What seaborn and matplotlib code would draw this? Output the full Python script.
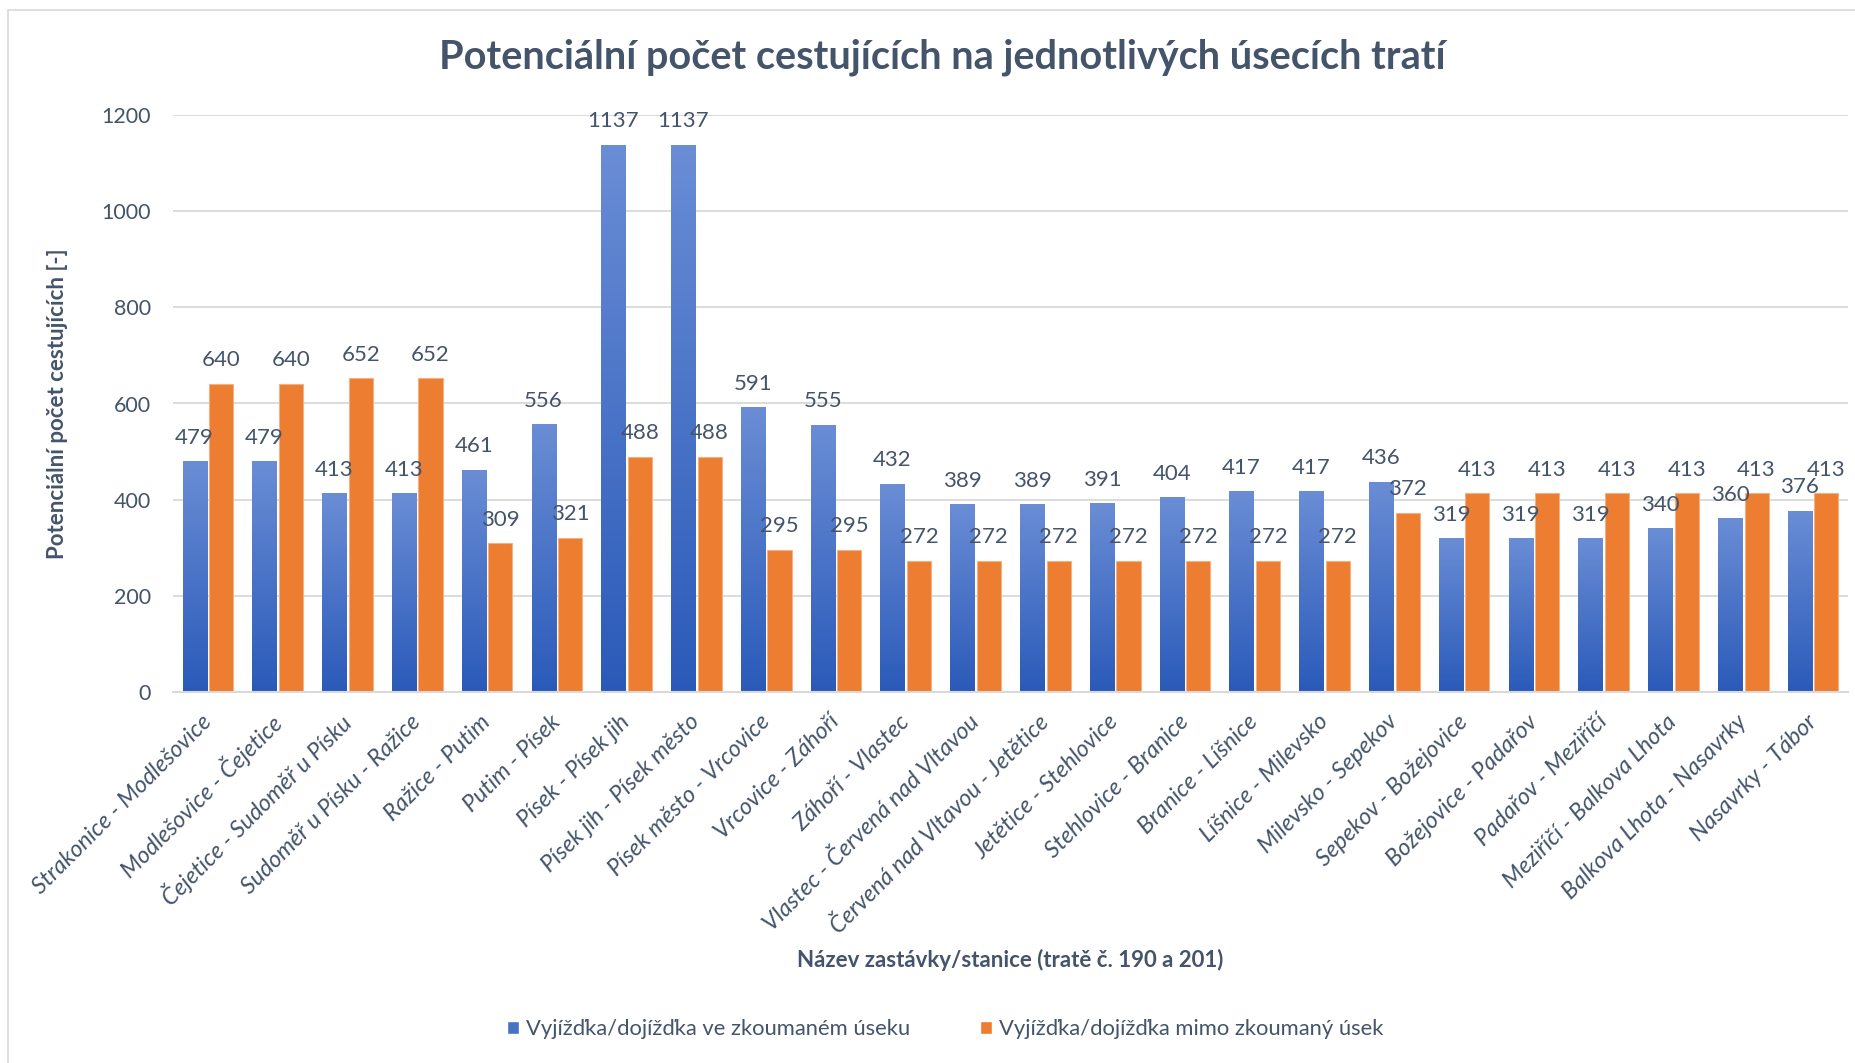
import numpy as np
import pandas as pd
import matplotlib
matplotlib.use("Agg")
import matplotlib.pyplot as plt
from matplotlib.colors import LinearSegmentedColormap
from matplotlib.patches import Rectangle
import seaborn as sns

categories = [
    "Strakonice - Modlešovice", "Modlešovice - Čejetice", "Čejetice - Sudoměř u Písku",
    "Sudoměř u Písku - Ražice", "Ražice - Putim", "Putim - Písek", "Písek - Písek jih",
    "Písek jih - Písek město", "Písek město - Vrcovice", "Vrcovice - Záhoří",
    "Záhoří - Vlastec", "Vlastec - Červená nad Vltavou", "Červená nad Vltavou - Jetětice",
    "Jetětice - Stehlovice", "Stehlovice - Branice", "Branice - Líšnice",
    "Líšnice - Milevsko", "Milevsko - Sepekov", "Sepekov - Božejovice",
    "Božejovice - Padařov", "Padařov - Meziříčí", "Meziříčí - Balkova Lhota",
    "Balkova Lhota - Nasavrky", "Nasavrky - Tábor",
]
inside_values = [479, 479, 413, 413, 461, 556, 1137, 1137, 591, 555, 432, 389, 389,
                 391, 404, 417, 417, 436, 319, 319, 319, 340, 360, 376]
outside_values = [640, 640, 652, 652, 309, 321, 488, 488, 295, 295, 272, 272, 272,
                  272, 272, 272, 272, 372, 413, 413, 413, 413, 413, 413]
series_names = ["Vyjížďka/dojížďka ve zkoumaném úseku", "Vyjížďka/dojížďka mimo zkoumaný úsek"]
yticks = [0, 200, 400, 600, 800, 1000, 1200]

title = "Potenciální počet cestujících na jednotlivých úsecích tratí"
xlabel = "Název zastávky/stanice (tratě č. 190 a 201)"
ylabel = "Potenciální počet cestujících [-]"

df = pd.DataFrame({
    "cat": categories * 2,
    "value": inside_values + outside_values,
    "series": [series_names[0]] * len(categories) + [series_names[1]] * len(categories),
})

TXT = "#44546A"
BLUE = "#4472C4"
ORANGE = "#ED7D31"
GRID = "#D9D9D9"

sns.set_theme(style="white")
plt.rcParams["font.family"] = ["Lato", "DejaVu Sans"]

W, H = 1856, 1063
fig = plt.figure(figsize=(W / 100, H / 100), dpi=100)
ax = fig.add_axes([173 / W, 1 - 692 / H, (1848 - 173) / W, (692 - 115) / H])

sns.barplot(data=df, x="cat", y="value", hue="series", order=categories,
            hue_order=series_names, palette=[BLUE, ORANGE], width=0.76, gap=0.09,
            saturation=1, legend=False, ax=ax, errorbar=None)

ax.set_ylim(yticks[0], yticks[-1])
ax.set_xlim(-0.5, len(categories) - 0.5)
ax.set_yticks(yticks)
ax.yaxis.grid(True, color=GRID, linewidth=1.3)
ax.set_axisbelow(True)
for s in ["top", "right", "left"]:
    ax.spines[s].set_visible(False)
ax.spines["bottom"].set_color(GRID)
ax.spines["bottom"].set_linewidth(1.5)
ax.tick_params(axis="both", length=0, colors=TXT)
ax.tick_params(axis="y", labelsize=15.5, pad=16)
ax.tick_params(axis="x", labelsize=16.8, pad=19)

for lab in ax.get_xticklabels():
    lab.set_rotation(45)
    lab.set_ha("right")
    lab.set_va("center")
    lab.set_rotation_mode("anchor")
    lab.set_style("italic")

# gradient fill for the first series
cmap = LinearSegmentedColormap.from_list("bl", ["#2A5AB9", "#6A8DD5"])
grad = np.linspace(0, 1, 256).reshape(-1, 1)
blue_bars = ax.containers[0]
orange_bars = ax.containers[1]
for bar in blue_bars:
    x0, y0 = bar.get_x(), bar.get_y()
    w, h = bar.get_width(), bar.get_height()
    ax.imshow(grad, extent=[x0, x0 + w, y0, y0 + h], aspect="auto", origin="lower",
              cmap=cmap, zorder=bar.get_zorder(), interpolation="bilinear")
    bar.set_facecolor("none")
    bar.set_edgecolor("none")
for bar in orange_bars:
    bar.set_edgecolor("#F4B183")
    bar.set_linewidth(0.8)
ax.set_xlim(-0.5, len(categories) - 0.5)
ax.set_ylim(yticks[0], yticks[-1])

for cont in ax.containers:
    ax.bar_label(cont, fmt="%d", padding=10, fontsize=16, color=TXT)

ax.set_xlabel(xlabel, fontsize=16, fontweight="bold", color=TXT, va="center")
ax.xaxis.set_label_coords(0.5, (692 - 960) / 577)
ax.set_ylabel(ylabel, fontsize=16, fontweight="bold", color=TXT, va="center")
ax.yaxis.set_label_coords((58 - 173) / 1675, 0.5)

fig.text(942 / W, 1 - 57 / H, title, ha="center", va="center", fontsize=28.5,
         fontweight="bold", color=TXT)

handles = [Rectangle((0, 0), 1, 1, facecolor=BLUE), Rectangle((0, 0), 1, 1, facecolor=ORANGE)]
fig.legend(handles, series_names, loc="center", bbox_to_anchor=(945 / W, 1 - 1029 / H),
           ncol=2, frameon=False, fontsize=15.8, labelcolor=TXT, handlelength=0.55,
           handleheight=0.55, handletextpad=0.3, columnspacing=3.2)

fig.add_artist(Rectangle((8 / W, -0.1), 1.2, 1.1 - 10 / H, transform=fig.transFigure,
                         facecolor="none", edgecolor="#D9D9D9", linewidth=1.2, zorder=-1))

fig.savefig("out.png", dpi=100)
